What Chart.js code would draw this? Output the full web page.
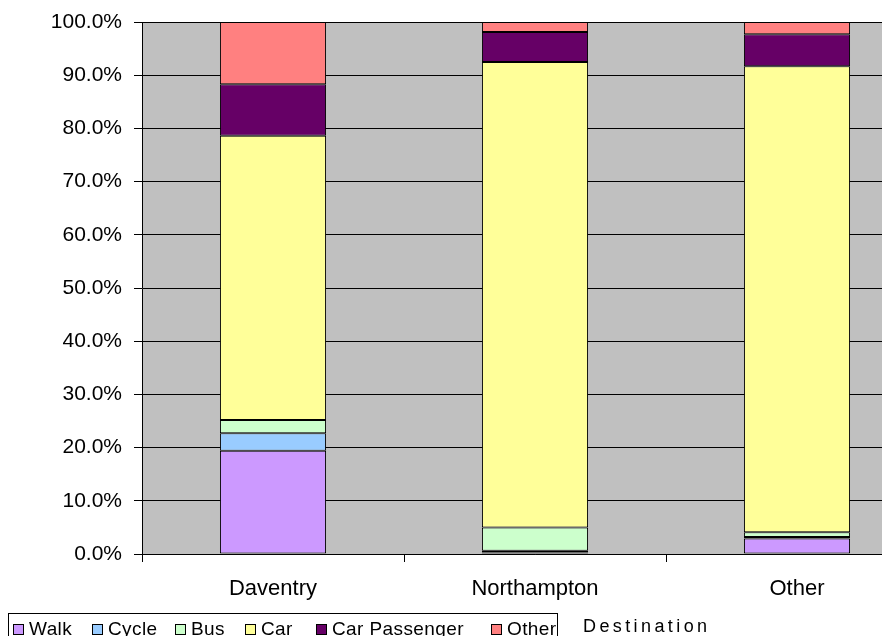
<!DOCTYPE html>
<html>
<head>
<meta charset="utf-8">
<script src="https://cdn.jsdelivr.net/npm/chart.js@4"></script>
<style>
  html, body { margin: 0; padding: 0; background: #fff; overflow: hidden; width: 882px; height: 636px; }
  #wrap { position: absolute; left: 0; top: 0; width: 940px; height: 636px; }
  #legend { position: absolute; left: 8px; top: 613px; width: 548px; height: 40px; border: 1px solid #000;
    font-family: "Liberation Sans", Arial, sans-serif; font-size: 19px; letter-spacing: 0.4px; color: #000; white-space: nowrap; }
  #legend span.item { position: absolute; top: 4px; }
  #legend i { display: inline-block; width: 9px; height: 9px; border: 1px solid #000; margin-right: 5px; vertical-align: 0px; }
  #title { position: absolute; left: 583px; top: 616px; font-family: "Liberation Sans", Arial, sans-serif; font-size: 18px; letter-spacing: 3.4px; }
</style>
</head>
<body>
<div id="wrap"><canvas id="graf" width="940" height="636"></canvas></div>
<div id="legend"></div>
<div id="title">Destination</div>
<script>
const kategorie = ["Daventry", "Northampton", "Other"];
const serie = ["Walk", "Cycle", "Bus", "Car", "Car Passenger", "Other"];
const walk = [19.4, 0.3, 2.9];
const cycle = [3.3, 0.3, 0.3];
const bus = [2.5, 4.4, 0.9];
const car = [53.4, 87.5, 87.6];
const carPassenger = [9.7, 5.6, 6.0];
const other = [11.7, 1.9, 2.3];
const barvy = ["#CC99FF", "#99CCFF", "#CCFFCC", "#FFFF99", "#660066", "#FF8080"];

const hodnoty = [walk, cycle, bus, car, carPassenger, other];

// sede pozadi plochy grafu
const pozadi = {
  id: "pozadi",
  beforeDraw(chart) {
    const a = chart.chartArea, ctx = chart.ctx;
    ctx.save();
    ctx.fillStyle = "#C0C0C0";
    ctx.fillRect(a.left, a.top, a.right - a.left, a.bottom - a.top);
    ctx.restore();
  }
};

const ctx = document.getElementById("graf").getContext("2d");
new Chart(ctx, {
  type: "bar",
  data: {
    labels: kategorie,
    datasets: serie.map(function(nazev, i) {
      return { label: nazev, data: hodnoty[i], backgroundColor: barvy[i], borderColor: "#000", borderWidth: 1,
        borderSkipped: false, barPercentage: 1, categoryPercentage: 0.405 };
    })
  },
  options: {
    responsive: false,
    animation: false,
    layout: { padding: { top: 22, right: 12, left: 0, bottom: 0 } },
    plugins: { legend: { display: false }, tooltip: { enabled: false } },
    scales: {
      x: {
        stacked: true,
        grid: { offset: true, drawOnChartArea: false, drawTicks: true, tickLength: 8, color: "#000" },
        border: { color: "#000" },
        ticks: { color: "#000", padding: 14, font: { family: "Liberation Sans", size: 22 } },
        afterFit(s) { s.height = 82; s.paddingLeft = 0; s.paddingRight = 0; }
      },
      y: {
        stacked: true, min: 0, max: 100,
        grid: { color: "#000", tickLength: 8 },
        border: { color: "#000" },
        ticks: { stepSize: 10, color: "#000", padding: 12, font: { family: "Liberation Sans", size: 21 },
          callback: function(v) { return v.toFixed(1) + "%"; } },
        afterFit(s) { s.width = 142; s.paddingTop = 0; s.paddingBottom = 0; }
      }
    }
  },
  plugins: [pozadi]
});

// legenda
const leg = document.getElementById("legend");
const pozice = [4, 83, 166, 236, 307, 482];
serie.forEach(function(nazev, i) {
  const el = document.createElement("span");
  el.className = "item";
  el.style.left = pozice[i] + "px";
  el.innerHTML = '<i style="background:' + barvy[i] + '"></i>' + nazev;
  leg.appendChild(el);
});
</script>
</body>
</html>
